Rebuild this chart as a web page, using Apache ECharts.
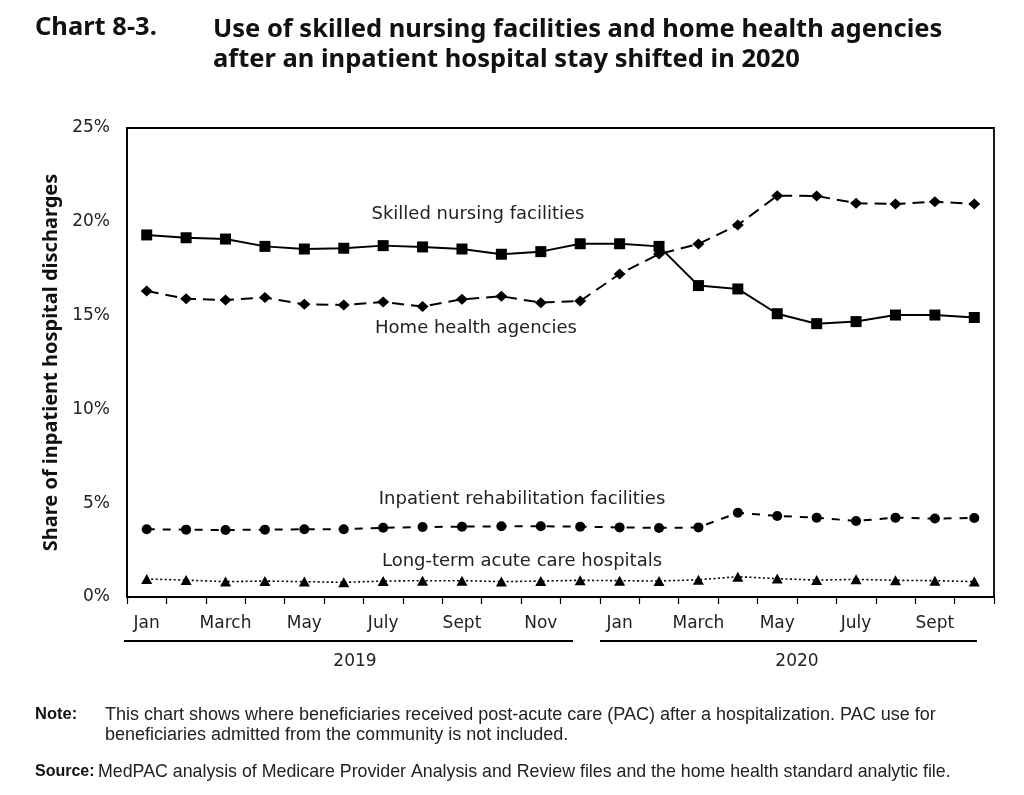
<!DOCTYPE html>
<html>
<head>
<meta charset="utf-8">
<script src="https://cdn.jsdelivr.net/npm/echarts@6/dist/echarts.min.js"></script>
<style>
html,body{margin:0;padding:0;background:#fff;}
#c{width:1024px;height:795px;}
</style>
</head>
<body>
<div id="c"></div>
<script>
var months = ['Jan','Feb','March','Apr','May','June','July','Aug','Sept','Oct','Nov','Dec',
              'Jan','Feb','March','Apr','May','June','July','Aug','Sept','Oct'];
var years = ['2019','2020'];
var yTicks = [0,5,10,15,20,25];
var snf  = [19.3,19.15,19.08,18.69,18.55,18.59,18.73,18.66,18.55,18.27,18.41,18.83,
            18.83,18.69,16.6,16.42,15.1,14.57,14.68,15.03,15.03,14.9];
var hha  = [16.31,15.9,15.83,15.96,15.6,15.57,15.72,15.48,15.87,16.03,15.69,15.78,
            17.22,18.28,18.82,19.83,21.39,21.38,20.99,20.95,21.07,20.95];
var irf  = [3.61,3.59,3.57,3.59,3.61,3.61,3.69,3.73,3.75,3.77,3.77,3.75,
            3.71,3.68,3.71,4.49,4.32,4.23,4.05,4.23,4.18,4.21];
var ltch = [0.96,0.9,0.82,0.85,0.82,0.78,0.85,0.87,0.87,0.82,0.85,0.89,
            0.87,0.85,0.92,1.08,0.98,0.9,0.94,0.89,0.87,0.82];
var seriesNames = ['Skilled nursing facilities','Home health agencies',
                   'Inpatient rehabilitation facilities','Long-term acute care hospitals'];

var FONT = 'DejaVu Sans';
var chart = echarts.init(document.getElementById('c'));
chart.setOption({
  animation:false,
  backgroundColor:'#fff',
  grid:{left:127,right:30,top:128,bottom:198,show:true,borderColor:'#000',borderWidth:1.8,backgroundColor:'transparent'},
  xAxis:{
    type:'category', data:months, boundaryGap:true,
    axisLine:{lineStyle:{color:'#000',width:1.8}},
    axisTick:{show:true,interval:0,length:7,lineStyle:{color:'#000',width:1.2}},
    axisLabel:{interval:1,color:'#222',fontSize:17,fontFamily:FONT,margin:18}
  },
  yAxis:{
    type:'value', min:0, max:25, interval:5,
    splitLine:{show:false},
    axisLine:{show:true,lineStyle:{color:'#000',width:1.8}},
    axisTick:{show:false},
    axisLabel:{formatter:'{value}%',color:'#222',fontSize:17,fontFamily:FONT,margin:17},
    name:'Share of inpatient hospital discharges', nameLocation:'middle', nameRotate:90, nameGap:64,
    nameTextStyle:{fontSize:20,fontWeight:'bold',color:'#111',fontFamily:'Noto Sans'}
  },
  series:[
    {name:seriesNames[0],type:'line',data:snf,symbol:'rect',symbolSize:11,
     lineStyle:{color:'#000',width:2},itemStyle:{color:'#000'}},
    {name:seriesNames[1],type:'line',data:hha,symbol:'diamond',symbolSize:[12,11],
     lineStyle:{color:'#000',width:2,type:[12,7]},itemStyle:{color:'#000'}},
    {name:seriesNames[2],type:'line',data:irf,symbol:'circle',symbolSize:10,
     lineStyle:{color:'#000',width:2,type:[8,8]},itemStyle:{color:'#000'}},
    {name:seriesNames[3],type:'line',data:ltch,symbol:'triangle',symbolSize:[11,10],
     lineStyle:{color:'#000',width:1.6,type:[2,2.5]},itemStyle:{color:'#000'}}
  ],
  graphic:[
    {type:'text',left:35,top:15,style:{text:'Chart 8-3.',font:'bold 25.5px "Noto Sans"',fill:'#111'}},
    {type:'text',left:213,top:15,style:{text:'Use of skilled nursing facilities and home health agencies\nafter an inpatient hospital stay shifted in 2020',font:'bold 25.5px "Noto Sans"',fill:'#111',lineHeight:30}},
    {type:'text',x:478,y:214,style:{text:seriesNames[0],font:'18px "DejaVu Sans"',fill:'#222',align:'center',verticalAlign:'middle'}},
    {type:'text',x:476,y:328,style:{text:seriesNames[1],font:'18px "DejaVu Sans"',fill:'#222',align:'center',verticalAlign:'middle'}},
    {type:'text',x:522,y:499,style:{text:seriesNames[2],font:'18px "DejaVu Sans"',fill:'#222',align:'center',verticalAlign:'middle'}},
    {type:'text',x:522,y:561,style:{text:seriesNames[3],font:'18px "DejaVu Sans"',fill:'#222',align:'center',verticalAlign:'middle'}},
    {type:'line',shape:{x1:124,y1:641,x2:573,y2:641},style:{stroke:'#000',lineWidth:1.8}},
    {type:'line',shape:{x1:600,y1:641,x2:977,y2:641},style:{stroke:'#000',lineWidth:1.8}},
    {type:'text',x:355,y:662,style:{text:years[0],font:'17px "DejaVu Sans"',fill:'#222',align:'center',verticalAlign:'middle'}},
    {type:'text',x:797,y:662,style:{text:years[1],font:'17px "DejaVu Sans"',fill:'#222',align:'center',verticalAlign:'middle'}},
    {type:'text',x:35,y:714,style:{text:'Note:',font:'bold 16.5px "Liberation Sans"',fill:'#111',verticalAlign:'middle'}},
    {type:'text',left:105,top:705,style:{text:'This chart shows where beneficiaries received post-acute care (PAC) after a hospitalization. PAC use for\nbeneficiaries admitted from the community is not included.',font:'18px "Liberation Sans"',fill:'#222',lineHeight:20}},
    {type:'text',x:35,y:772,style:{text:'Source:',font:'bold 16px "Liberation Sans"',fill:'#111',verticalAlign:'middle'}},
    {type:'text',left:98,top:763,style:{text:'MedPAC analysis of Medicare Provider Analysis and Review files and the home health standard analytic file.',font:'17.8px "Liberation Sans"',fill:'#222'}}
  ]
});
</script>
</body>
</html>
